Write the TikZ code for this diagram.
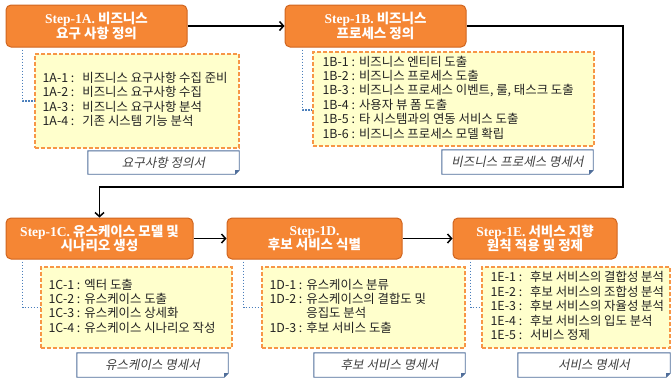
\documentclass[tikz,border=0pt]{standalone}
\usepackage{fontspec}
\setmainfont{Noto Sans CJK KR}
\newfontfamily\stepfont{Liberation Serif}
\newfontfamily\docfont{Noto Sans CJK KR}[FakeSlant=0.2]
\usetikzlibrary{arrows.meta,calc}
\definecolor{headfill}{HTML}{F58634}
\definecolor{headline}{HTML}{D0651F}
\definecolor{detfill}{HTML}{FFFFCC}
\definecolor{detline}{HTML}{F79646}
\definecolor{dotblue}{HTML}{4A7EBB}
\definecolor{docline}{HTML}{4F6D9A}
\definecolor{txt}{HTML}{222222}
\tikzset{
  head/.style={draw=headline, fill=headfill, line width=1pt, rounded corners=5pt,
    text=white, align=center, font=\fontsize{13.5}{14.5}\selectfont\bfseries, inner sep=2pt},
  detail/.style={draw=detline, fill=detfill, line width=1.2pt, dash pattern=on 4pt off 2pt},
  dtext/.style={anchor=west, text=txt, inner sep=0pt, font=\fontsize{12.4}{13.6}\selectfont},
  docbox/.style={draw=none, fill=none, inner sep=0pt, text=black!75,
    font=\docfont\fontsize{12.5}{13}\selectfont},
  flow/.style={line width=1.5pt, -{Straight Barb[length=4pt,width=9pt,line width=1.5pt]}},
  link/.style={draw=dotblue, line width=1.5pt, dash pattern=on 1.5pt off 1.5pt},
}
\newcommand{\docshape}[1]{%
  \draw[docline, line width=0.9pt, fill=white] (#1.north west) -- (#1.north east) -- ($(#1.south east)+(0,-4)$) -- ($(#1.south east)+(-4,0)$) -- (#1.south west) -- cycle;
  \fill[docline] ($(#1.south east)+(0,-4)$) -- ($(#1.south east)+(-4,0)$) -- ($(#1.south east)+(-4,-4)$) -- cycle;
}
\newcommand{\stp}[1]{{\stepfont\bfseries #1}}
\begin{document}
\begin{tikzpicture}[x=1pt,y=-1pt]
\useasboundingbox (0,0) rectangle (672,378);
% headings
\node[head, minimum width=181pt, minimum height=42pt] (A) at (96.5,26) {\stp{Step-1A.} 비즈니스\\요구 사항 정의};
\node[head, minimum width=181pt, minimum height=42pt] (B) at (375.5,26) {\stp{Step-1B.} 비즈니스\\프로세스 정의};
\node[head, minimum width=187pt, minimum height=41pt] (C) at (99.5,238.5) {\stp{Step-1C.} 유스케이스 모델 및\\시나리오 생성};
\node[head, minimum width=175pt, minimum height=41pt] (D) at (314.5,238.5) {\stp{Step-1D.}\\후보 서비스 식별};
\node[head, minimum width=164pt, minimum height=41pt] (E) at (535,238.5) {\stp{Step-1E.} 서비스 지향\\원칙 적용 및 정제};
% detail boxes
\node[detail, minimum width=204pt, minimum height=94pt] (dA) at (137,101) {};
\node[detail, minimum width=281pt, minimum height=94pt] (dB) at (453.5,99) {};
\node[detail, minimum width=191pt, minimum height=81pt] (dC) at (136.5,307.5) {};
\node[detail, minimum width=203pt, minimum height=81pt] (dD) at (363.5,307.5) {};
\node[detail, minimum width=188pt, minimum height=81pt] (dE) at (576,307.5) {};
% detail texts
\node[dtext] (tA) at ($(dA.west)+(8,0)$) {\begin{tabular}{@{}l@{\hspace{8pt}}l@{}}
1A-1 : & 비즈니스 요구사항 수집 준비\\
1A-2 : & 비즈니스 요구사항 수집\\
1A-3 : & 비즈니스 요구사항 분석\\
1A-4 : & 기존 시스템 기능 분석\end{tabular}};
\node[dtext] (tB) at ($(dB.west)+(10,0)$) {\begin{tabular}{@{}l@{\hspace{4pt}}l@{}}
1B-1 : & 비즈니스 엔티티 도출\\
1B-2 : & 비즈니스 프로세스 도출\\
1B-3 : & 비즈니스 프로세스 이벤트, 룰, 태스크 도출\\
1B-4 : & 사용자 뷰 폼 도출\\
1B-5 : & 타 시스템과의 연동 서비스 도출\\
1B-6 : & 비즈니스 프로세스 모델 확립\end{tabular}};
\node[dtext] (tC) at ($(dC.west)+(8,0)$) {\begin{tabular}{@{}l@{\hspace{4pt}}l@{}}
1C-1 : & 엑터 도출\\
1C-2 : & 유스케이스 도출\\
1C-3 : & 유스케이스 상세화\\
1C-4 : & 유스케이스 시나리오 작성\end{tabular}};
\node[dtext] (tD) at ($(dD.west)+(8,0)$) {\begin{tabular}{@{}l@{\hspace{4pt}}l@{}}
1D-1 : & 유스케이스 분류\\
1D-2 : & 유스케이스의 결합도 및\\
 & 응집도 분석\\
1D-3 : & 후보 서비스 도출\end{tabular}};
\node[dtext] (tE) at ($(dE.west)+(9,0)$) {\begin{tabular}{@{}l@{\hspace{8pt}}l@{}}
1E-1 : & 후보 서비스의 결합성 분석\\
1E-2 : & 후보 서비스의 조합성 분석\\
1E-3 : & 후보 서비스의 자율성 분석\\
1E-4 : & 후보 서비스의 입도 분석\\
1E-5 : & 서비스 정제\end{tabular}};
% document labels
\node[docbox, minimum width=151pt, minimum height=23pt] (oA) at (163.5,162.5) {};
\node[docbox, minimum width=151pt, minimum height=24pt] (oB) at (517.5,162) {};
\node[docbox, minimum width=151pt, minimum height=24pt] (oC) at (152.5,365) {};
\node[docbox, minimum width=151pt, minimum height=24pt] (oD) at (389.5,365) {};
\node[docbox, minimum width=152pt, minimum height=24pt] (oE) at (594,365) {};
\docshape{oA}\docshape{oB}\docshape{oC}\docshape{oD}\docshape{oE}
\node[docbox] (lA) at (oA.center) {요구사항 정의서};
\node[docbox] (lB) at (oB.center) {비즈니스 프로세스 명세서};
\node[docbox] (lC) at (oC.center) {유스케이스 명세서};
\node[docbox] (lD) at (oD.center) {후보 서비스 명세서};
\node[docbox] (lE) at (oE.center) {서비스 명세서};
% dotted links
\draw[link] ($(A.south west)+(17,2)$) |- (dA.west);
\draw[link] ($(B.south west)+(18,2)$) |- ($(dB.west)+(0,11)$);
\draw[link] ($(C.south west)+(17,2)$) |- (dC.west);
\draw[link] ($(D.south west)+(17,2)$) |- (dD.west);
\draw[link] ($(E.south west)+(18,2)$) |- (dE.west);
% flow
\coordinate (r1) at (623,26);
\coordinate (r2) at (623,187);
\coordinate (r3) at (99.5,187);
\draw[flow] (A.east) -- (B.west);
\draw[flow] (B.east) -- (r1) -- (r2) -- (r3) -- (C.north);
\draw[flow] (C.east) -- (D.west);
\draw[flow] (D.east) -- (E.west);
\end{tikzpicture}
\end{document}
